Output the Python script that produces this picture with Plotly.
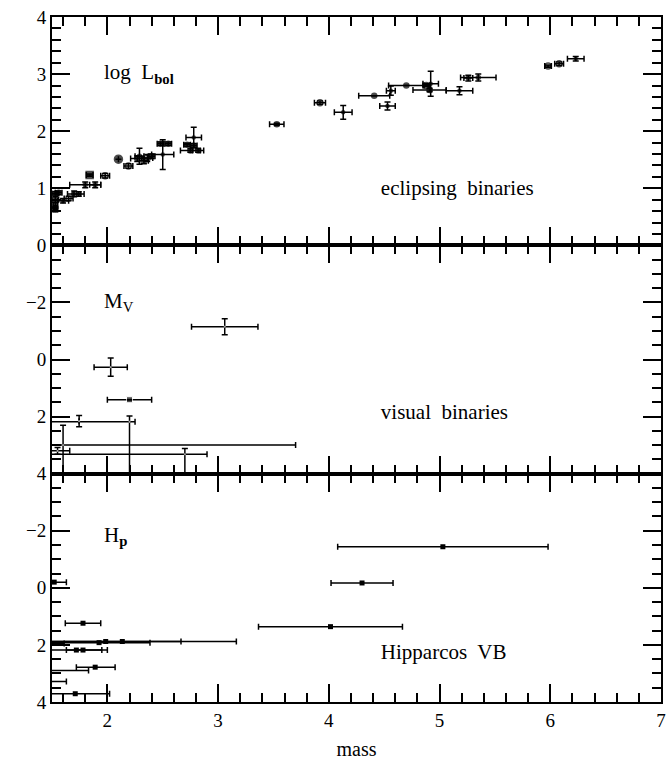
import plotly.graph_objects as go
from plotly.subplots import make_subplots

# ---------------- data ----------------
# Eclipsing binaries: mass, log L_bol and errors
eb_mass = [1.53, 1.56, 1.53, 1.53, 1.53, 1.60, 1.65, 1.70, 1.74, 1.80, 1.84, 1.89, 1.98,
           2.10, 2.19, 2.27, 2.29, 2.33, 2.36, 2.40, 2.50, 2.48, 2.55, 2.78, 2.72, 2.78,
           2.75, 2.82, 3.53, 3.92, 4.13, 4.41, 4.56, 4.53, 4.70, 4.92, 4.88, 4.91, 5.18,
           5.26, 5.35, 5.98, 6.08, 6.23]
eb_logL = [0.91, 0.92, 0.80, 0.70, 0.63, 0.78, 0.82, 0.90, 0.90, 1.06, 1.23, 1.06, 1.22,
           1.51, 1.39, 1.52, 1.56, 1.48, 1.53, 1.56, 1.59, 1.78, 1.78, 1.89, 1.76, 1.75,
           1.66, 1.66, 2.12, 2.50, 2.33, 2.62, 2.71, 2.44, 2.80, 2.83, 2.80, 2.72, 2.71,
           2.93, 2.94, 3.14, 3.18, 3.27]
eb_merr = [0.03, 0.03, 0.03, 0.02, 0.02, 0.05, 0.04, 0.06, 0.05, 0.14, 0.03, 0.05, 0.04,
           0.0, 0.04, 0.06, 0.04, 0.04, 0.05, 0.03, 0.10, 0.03, 0.03, 0.07, 0.03, 0.03,
           0.09, 0.05, 0.065, 0.05, 0.08, 0.14, 0.04, 0.07, 0.16, 0.07, 0.03, 0.15, 0.12,
           0.04, 0.16, 0.03, 0.04, 0.075]
eb_Lerr = [0.03, 0.03, 0.05, 0.05, 0.04, 0.04, 0.04, 0.05, 0.04, 0.05, 0.02, 0.05, 0.04,
           0.0, 0.04, 0.05, 0.14, 0.05, 0.06, 0.04, 0.26, 0.03, 0.03, 0.18, 0.03, 0.03,
           0.03, 0.03, 0.02, 0.03, 0.12, 0.0, 0.08, 0.07, 0.0, 0.22, 0.02, 0.03, 0.07,
           0.05, 0.06, 0.02, 0.03, 0.04]
eb_symbol = ["circle", "circle", "circle", "circle", "circle", "circle", "circle-open",
             "circle-open", "circle", "circle", "square", "circle", "circle-open",
             "circle", "circle-open", "circle", "circle", "circle", "circle-open", "circle",
             "circle", "circle", "circle", "circle", "circle", "circle",
             "circle", "circle", "circle", "circle-open", "circle", "circle", "circle",
             "circle", "circle", "circle", "circle-open", "circle", "circle",
             "circle", "circle", "circle-open", "circle-open", "circle"]
eb_size = [5, 5, 5, 5, 5, 4, 5, 5, 4, 4, 7, 4, 6,
           8, 6, 5, 4, 5, 6, 5, 3, 5, 5, 3, 5, 5,
           5, 5, 5, 6, 3, 5, 3, 3, 5, 3, 6, 5, 3,
           4, 4, 6, 6, 3]

# Visual binaries: mass, M_V and (asymmetric) errors (plus = fainter, minus = brighter)
vb_mass = [3.06, 2.03, 2.20, 1.745, 2.20, 1.60, 1.55, 2.70]
vb_mv = [-1.15, 0.27, 1.41, 2.16, 2.18, 3.00, 3.20, 3.32]
vb_merr_plus = [0.30, 0.15, 0.20, 0.0, 0.05, 2.10, 0.11, 0.20]
vb_merr_minus = [0.30, 0.15, 0.20, 0.0, 0.90, 0.30, 0.11, 1.40]
vb_mverr_plus = [0.28, 0.32, 0.0, 0.20, 2.00, 1.50, 0.12, 1.50]
vb_mverr_minus = [0.28, 0.32, 0.0, 0.20, 0.20, 0.70, 0.12, 0.20]
vb_size = [1, 1, 6, 1, 1, 1, 1, 1]

# Hipparcos visual binaries: mass, H_p and mass errors
hp_mass = [5.03, 4.30, 4.015, 1.52, 1.78, 1.925, 1.985, 2.135, 1.52, 1.72, 1.78,
           1.89, 1.45, 1.45, 1.71]
hp_mag = [-1.44, -0.17, 1.36, -0.20, 1.24, 1.92, 1.88, 1.88, 1.95, 2.18, 2.18,
          2.78, 2.90, 3.28, 3.71]
hp_merr_plus = [0.95, 0.28, 0.65, 0.11, 0.16, 0.46, 0.68, 1.03, 0.09, 0.23, 0.22,
                0.18, 0.38, 0.18, 0.31]
hp_merr_minus = [0.95, 0.28, 0.65, 0.11, 0.16, 0.46, 0.68, 1.03, 0.09, 0.23, 0.15,
                 0.17, 0.38, 0.18, 0.31]

# magnitude tick labels (magnitudes increase downward)
mag_ticks = [-2, 0, 2, 4]

# panel labels
lbl_top = ["log  L<sub><b>bol</b></sub>", "eclipsing  binaries"]
lbl_mid = ["M<sub>V</sub>", "visual  binaries"]
lbl_bot = ["H<sub><b>p</b></sub>", "Hipparcos  VB"]

FONT = "Liberation Serif"
BLACK = "black"


def flip(v):
    """Magnitudes are plotted brighter-up: draw on a negated axis."""
    return [-a for a in v]


fig = make_subplots(rows=3, cols=1, shared_xaxes=True, vertical_spacing=0)

ebar = dict(color=BLACK, thickness=1.5, width=3)

fig.add_trace(go.Scatter(
    x=eb_mass, y=eb_logL, mode="markers",
    marker=dict(color=BLACK, size=eb_size, symbol=eb_symbol, line=dict(color=BLACK, width=1.5)),
    error_x=dict(type="data", array=eb_merr, visible=True, **ebar),
    error_y=dict(type="data", array=eb_Lerr, visible=True, **ebar),
    showlegend=False), row=1, col=1)

fig.add_trace(go.Scatter(
    x=vb_mass, y=flip(vb_mv), mode="markers",
    marker=dict(color=BLACK, size=vb_size, symbol="square"),
    error_x=dict(type="data", symmetric=False, array=vb_merr_plus,
                 arrayminus=vb_merr_minus, visible=True, **ebar),
    error_y=dict(type="data", symmetric=False, array=vb_mverr_minus,
                 arrayminus=vb_mverr_plus, visible=True, **ebar),
    showlegend=False), row=2, col=1)

fig.add_trace(go.Scatter(
    x=hp_mass, y=flip(hp_mag), mode="markers",
    marker=dict(color=BLACK, size=5, symbol="square"),
    error_x=dict(type="data", symmetric=False, array=hp_merr_plus,
                 arrayminus=hp_merr_minus, visible=True, **ebar),
    showlegend=False), row=3, col=1)

# panel labels as text marks (left edge anchored)
tfont = dict(family=FONT, size=21, color=BLACK)
fig.add_trace(go.Scatter(x=[1.97, 4.47], y=[3.0, 0.97], mode="text", text=lbl_top,
                         textposition="middle right", textfont=tfont,
                         showlegend=False, hoverinfo="skip"), row=1, col=1)
fig.add_trace(go.Scatter(x=[1.97, 4.47], y=[2.0, -1.9], mode="text", text=lbl_mid,
                         textposition="middle right", textfont=tfont,
                         showlegend=False, hoverinfo="skip"), row=2, col=1)
fig.add_trace(go.Scatter(x=[1.97, 4.47], y=[1.8, -2.3], mode="text", text=lbl_bot,
                         textposition="middle right", textfont=tfont,
                         showlegend=False, hoverinfo="skip"), row=3, col=1)

axis_common = dict(showline=True, linecolor=BLACK, linewidth=2, mirror="allticks",
                   ticks="inside", ticklen=18, tickwidth=1.5, tickcolor=BLACK,
                   automargin=False,
                   gridcolor="rgba(0,0,0,0)", zerolinecolor="rgba(0,0,0,0)",
                   tickfont=dict(family=FONT, size=19, color=BLACK))

for r in (1, 2, 3):
    fig.update_xaxes(range=[1.5, 7], dtick=1,
                     minor=dict(ticks="inside", dtick=0.2, ticklen=9,
                                tickwidth=1.5, tickcolor=BLACK),
                     **axis_common, row=r, col=1)

fig.update_xaxes(title=dict(text="mass", font=dict(family=FONT, size=20, color=BLACK),
                            standoff=12), row=3, col=1)

fig.update_yaxes(range=[0, 4], dtick=1,
                 minor=dict(ticks="inside", dtick=0.2, ticklen=9,
                            tickwidth=1.5, tickcolor=BLACK),
                 **axis_common, row=1, col=1)
for r in (2, 3):
    fig.update_yaxes(range=[-4, 4], tickmode="array", tickvals=flip(mag_ticks),
                     ticktext=[("\u2212" if t < 0 else "") + str(abs(t)) for t in mag_ticks],
                     minor=dict(ticks="inside", dtick=0.5, ticklen=9,
                                tickwidth=1.5, tickcolor=BLACK),
                     **axis_common, row=r, col=1)

fig.update_layout(
    width=667, height=769,
    margin=dict(l=52, r=6, t=17, b=67, autoexpand=False),
    paper_bgcolor="white", plot_bgcolor="white",
    font=dict(family=FONT, color=BLACK),
    showlegend=False,
)

fig.write_html("out.html")
